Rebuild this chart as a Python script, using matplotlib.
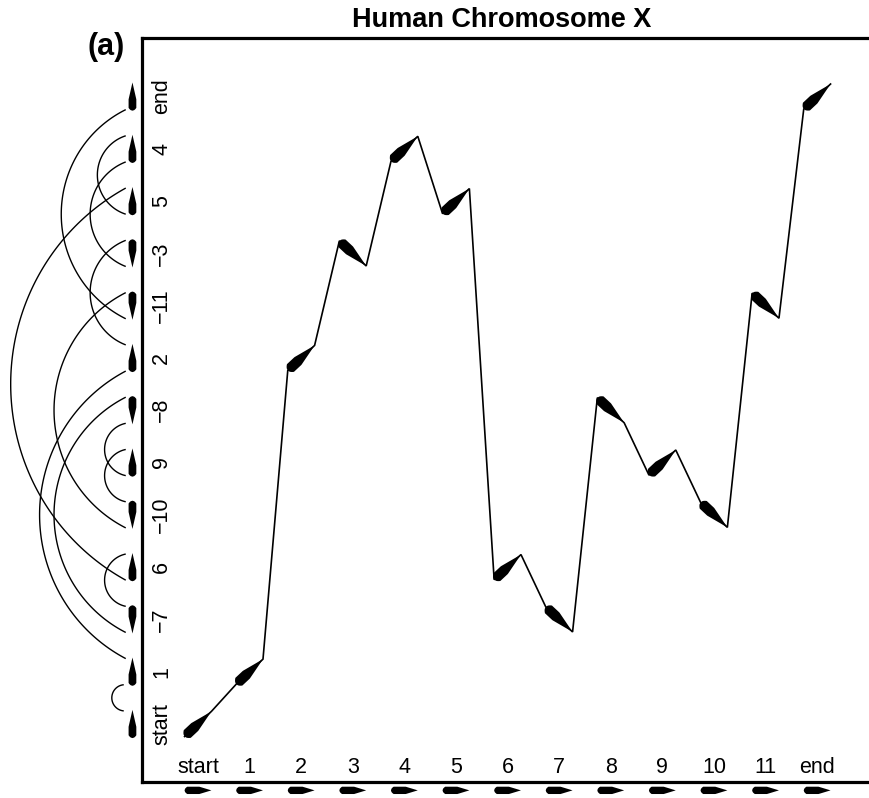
import matplotlib.pyplot as plt
import numpy as np

# reference order along the x axis
ref_labels = ["start", "1", "2", "3", "4", "5", "6", "7", "8", "9", "10", "11", "end"]
# signed gene order on chromosome X, bottom to top (0 = start, 12 = end)
target_order = [0, 1, -7, 6, -10, 9, -8, 2, -11, -3, 5, 4, 12]
target_labels = ["start", "1", "\u22127", "6", "\u221210", "9", "\u22128",
                 "2", "\u221211", "\u22123", "5", "4", "end"]

plt.rcParams["font.family"] = ["Liberation Sans", "DejaVu Sans"]

HALF_X, HALF_Y = 0.26, 0.24   # half extent of a block in the dot plot
END_OFF = 0.25                # marker tip offset on the left axis
MARK_X = -1.27                # x of the left axis markers
ARC_X = -1.40                 # x where arcs meet the markers
MARK_Y = -1.27                # y of the bottom markers


def teardrop(ax, x0, y0, x1, y1, width, taper=0.55, **kw):
    """Filled arrow shape, thick at (x0, y0), pointed at (x1, y1)."""
    dx, dy = x1 - x0, y1 - y0
    length = np.hypot(dx, dy)
    ux, uy = dx / length, dy / length
    nx, ny = -uy, ux
    t = np.linspace(0, 1, 60)
    half = width / 2 * np.clip((1 - t) / taper, 0, 1) * np.sqrt(np.clip(t / 0.1, 0, 1))
    px = x0 + ux * length * t
    py = y0 + uy * length * t
    xs = np.concatenate([px + nx * half, (px - nx * half)[::-1]])
    ys = np.concatenate([py + ny * half, (py - ny * half)[::-1]])
    ax.fill(xs, ys, color="black", lw=0, clip_on=False, **kw)


def arc(ax, y0, y1, depth):
    """Circular arc left of the axis between y0 and y1."""
    c = abs(y1 - y0)
    r = (c ** 2 / 4 + depth ** 2) / (2 * depth)
    ym = (y0 + y1) / 2
    cx = ARC_X - depth + r
    half_ang = np.arcsin(min(1.0, (c / 2) / r))
    ang = np.linspace(np.pi - half_ang, np.pi + half_ang, 120)
    ax.plot(cx + r * np.cos(ang), ym + r * np.sin(ang), color="black", lw=1.0,
            clip_on=False, solid_capstyle="butt")


# position and orientation of every gene on chromosome X
pos = {}
sign = {}
for p, g in enumerate(target_order):
    pos[abs(g)] = p
    sign[abs(g)] = -1 if g < 0 else 1

fig = plt.figure(figsize=(8.7, 7.98), dpi=100)
ax = fig.add_axes([142 / 870, 16 / 798, 735 / 870, 744 / 798])
ax.set_xlim(-1.085, 13.16)
ax.set_ylim(-1.11, 13.12)
ax.set_xticks([])
ax.set_yticks([])
for side in ("left", "bottom", "top"):
    ax.spines[side].set_linewidth(2.3)
ax.spines["right"].set_visible(False)

# dot plot path: thin line through all blocks, thick arrow for each block
genes = range(len(ref_labels))
tails = [(g - HALF_X, pos[g] - sign[g] * HALF_Y) for g in genes]
heads = [(g + HALF_X, pos[g] + sign[g] * HALF_Y) for g in genes]
path_x, path_y = [], []
for g in genes:
    path_x += [tails[g][0], heads[g][0]]
    path_y += [tails[g][1], heads[g][1]]
ax.plot(path_x, path_y, color="black", lw=1.2, solid_joinstyle="miter")
for g in genes:
    teardrop(ax, tails[g][0], tails[g][1], heads[g][0], heads[g][1], 0.2, taper=0.62)

# tick labels drawn inside the frame
for i, lab in enumerate(ref_labels):
    ax.text(i, -0.84, lab, ha="center", va="center", fontsize=15.5)
for p, lab in enumerate(target_labels):
    ax.text(-0.70, p, lab, ha="center", va="center", rotation=90, fontsize=15.5)

# markers below the x axis (all forward)
for i in genes:
    teardrop(ax, i - HALF_X, MARK_Y, i + HALF_X, MARK_Y, 0.14, taper=0.45)

# markers left of the y axis, pointing by orientation
for p, g in enumerate(target_order):
    s = -1 if g < 0 else 1
    teardrop(ax, MARK_X, p - s * 0.27, MARK_X, p + s * 0.27, 0.15, taper=0.6)

# breakpoint arcs: head of gene g joined to tail of gene g + 1
for g in range(len(ref_labels) - 1):
    y_head = pos[g] + sign[g] * END_OFF
    y_tail = pos[g + 1] - sign[g + 1] * END_OFF
    span = abs(y_tail - y_head)
    arc(ax, y_head, y_tail, 0.28 * span + 0.13)

fig.text(502 / 870, 1 - 20 / 798, "Human Chromosome X", ha="center", va="center",
         fontsize=19.5, fontweight="bold")
fig.text(106 / 870, 1 - 47 / 798, "(a)", ha="center", va="center",
         fontsize=22, fontweight="bold")

fig.savefig("out.png", dpi=100)
